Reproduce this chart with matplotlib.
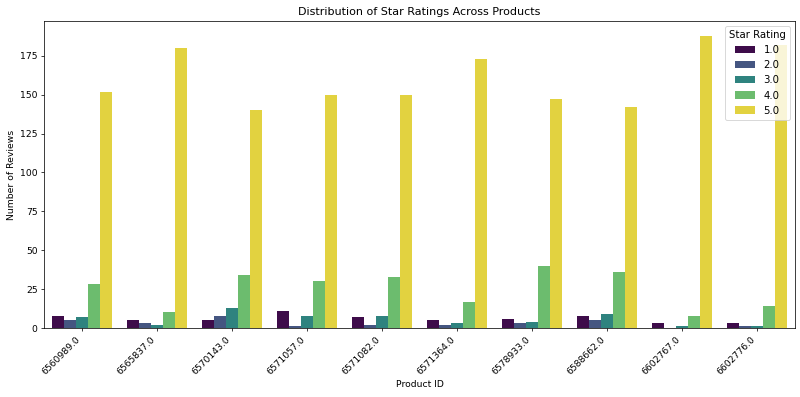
import numpy as np
import pandas as pd
import seaborn as sns
from matplotlib import pyplot as plt

products = ["6560989.0", "6565837.0", "6570143.0", "6571057.0", "6571082.0",
            "6571364.0", "6578933.0", "6588662.0", "6602767.0", "6602776.0"]
ratings = [1.0, 2.0, 3.0, 4.0, 5.0]

# counts per rating, one list per star value (in product order)
stars_1 = [8, 5, 5, 11, 7, 5, 6, 8, 3, 3]
stars_2 = [5, 3, 8, 1, 2, 2, 3, 5, 0, 1]
stars_3 = [7, 2, 13, 8, 8, 3, 4, 9, 1, 1]
stars_4 = [28, 10, 34, 30, 33, 17, 40, 36, 8, 14]
stars_5 = [152, 180, 140, 150, 150, 173, 147, 142, 188, 182]

rows = []
for r, counts in zip(ratings, [stars_1, stars_2, stars_3, stars_4, stars_5]):
    for p, c in zip(products, counts):
        if c > 0:
            rows.append({"product": p, "rating": r, "count": c})
df = pd.DataFrame(rows)

fig, ax = plt.subplots(figsize=(12, 397 * 12 / 800), dpi=800 / 12)
sns.barplot(data=df, x="product", y="count", hue="rating", palette="viridis",
            order=products, hue_order=ratings, ax=ax)
ax.set_title("Distribution of Star Ratings Across Products")
ax.set_xlabel("Product ID")
ax.set_ylabel("Number of Reviews")
plt.xticks(rotation=45, ha="right")
ax.legend(title="Star Rating", loc="upper right", fontsize=11, title_fontsize=11)
plt.subplots_adjust(left=44 / 800, right=795 / 800, top=1 - 21 / 397, bottom=1 - 328 / 397)
plt.savefig("out.png")
